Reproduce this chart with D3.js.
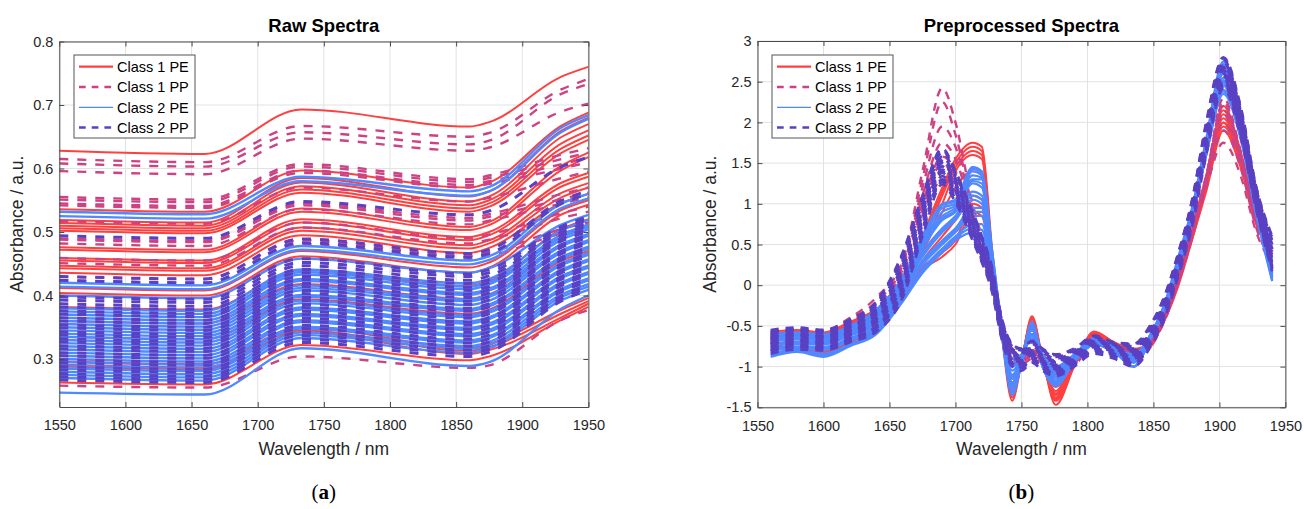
<!DOCTYPE html>
<html><head><meta charset="utf-8">
<script src="https://cdn.jsdelivr.net/npm/d3@7"></script>
<style>body{margin:0;background:#fff;} svg{display:block;font-family:"Liberation Sans",Arial,Helvetica,sans-serif;}</style>
</head><body><svg id="chart" width="1304" height="509"></svg>
<script>
// ---------------- DATA ----------------
const seriesNames = ["Class 1 PE", "Class 1 PP", "Class 2 PE", "Class 2 PP"];
const xTickValues = [1550, 1600, 1650, 1700, 1750, 1800, 1850, 1900, 1950];
const rawYTicks = [0.3, 0.4, 0.5, 0.6, 0.7, 0.8];
const prepYTicks = [-1.5, -1, -0.5, 0, 0.5, 1, 1.5, 2, 2.5, 3];

// Raw spectra: absorbance at these wavelengths
const rawWavelengths = [1550, 1660, 1733, 1860, 1875, 1930, 1950];
const rawClass1PE = [
 [.628,.623,.693,.666,.673,.745,.760],
 [.536,.532,.597,.570,.578,.668,.688],
 [.519,.515,.585,.556,.564,.660,.680],
 [.514,.510,.578,.548,.556,.650,.670],
 [.510,.506,.572,.542,.550,.640,.660],
 [.506,.502,.567,.537,.545,.632,.652],
 [.502,.498,.562,.532,.540,.625,.645],
 [.476,.472,.537,.508,.516,.605,.625],
 [.472,.468,.532,.503,.511,.598,.618],
 [.459,.455,.520,.492,.500,.578,.593],
 [.455,.451,.515,.487,.495,.572,.587],
 [.447,.443,.507,.479,.487,.562,.577],
 [.443,.439,.502,.474,.482,.555,.570],
 [.436,.432,.495,.467,.475,.546,.560],
 [.412,.408,.470,.444,.452,.535,.550],
 [.404,.400,.462,.436,.444,.528,.543],
 [.382,.378,.440,.415,.423,.505,.520],
 [.360,.356,.418,.395,.402,.480,.495],
 [.335,.331,.394,.371,.378,.455,.470],
 [.296,.292,.350,.318,.324,.378,.396],
 [.291,.287,.345,.313,.319,.372,.391],
 [.288,.284,.342,.308,.314,.366,.387],
 [.263,.260,.322,.298,.304,.362,.382]
];
const rawClass1PP = [
 [.615,.610,.667,.650,.656,.725,.741],
 [.608,.603,.657,.638,.644,.718,.733],
 [.596,.591,.647,.628,.633,.690,.702],
 [.555,.551,.607,.583,.589,.622,.632],
 [.551,.547,.603,.579,.585,.615,.625],
 [.545,.541,.597,.574,.580,.607,.617],
 [.542,.538,.593,.570,.576,.600,.610],
 [.517,.513,.570,.548,.554,.585,.595],
 [.490,.486,.545,.522,.528,.560,.570],
 [.488,.484,.542,.518,.524,.552,.562],
 [.482,.478,.536,.512,.518,.545,.555],
 [.459,.455,.515,.490,.496,.530,.540],
 [.451,.447,.507,.482,.488,.522,.532],
 [.430,.426,.487,.462,.468,.505,.515],
 [.424,.420,.481,.456,.462,.498,.508],
 [.258,.255,.304,.286,.290,.362,.377]
];
const rawClass2PE = [
 [.532,.528,.587,.564,.571,.665,.684],
 [.525,.521,.580,.557,.564,.658,.678],
 [.420,.416,.478,.455,.462,.545,.560],
 [.414,.410,.472,.449,.456,.538,.553],
 [.400,.396,.458,.436,.443,.512,.527],
 [.380,.376,.441,.419,.426,.503,.519],
 [.375,.371,.437,.414,.421,.496,.512],
 [.370,.366,.433,.410,.418,.492,.508],
 [.365,.361,.426,.404,.411,.488,.504],
 [.360,.356,.423,.401,.408,.481,.497],
 [.355,.351,.416,.394,.401,.478,.494],
 [.350,.346,.412,.391,.398,.471,.487],
 [.345,.341,.408,.385,.392,.468,.484],
 [.340,.336,.401,.379,.386,.461,.477],
 [.335,.331,.398,.376,.383,.458,.474],
 [.330,.326,.392,.369,.376,.451,.467],
 [.325,.321,.388,.366,.373,.448,.464],
 [.320,.316,.381,.359,.366,.441,.457],
 [.315,.311,.378,.356,.363,.438,.454],
 [.310,.306,.371,.349,.356,.431,.447],
 [.305,.301,.368,.346,.353,.428,.444],
 [.300,.296,.361,.339,.346,.421,.437],
 [.295,.291,.358,.336,.343,.418,.434],
 [.290,.286,.351,.329,.336,.411,.427],
 [.285,.281,.348,.326,.333,.408,.424],
 [.280,.276,.342,.320,.327,.402,.418],
 [.275,.271,.338,.316,.322,.398,.414],
 [.270,.266,.333,.310,.317,.393,.409],
 [.247,.244,.317,.289,.295,.380,.400]
];
const rawClass2PP = [
 [.494,.490,.548,.527,.533,.603,.618],
 [.430,.426,.489,.466,.472,.550,.565],
 [.424,.420,.483,.460,.466,.545,.560],
 [.398,.394,.458,.434,.441,.509,.524],
 [.393,.389,.452,.430,.436,.505,.520],
 [.387,.383,.447,.424,.431,.500,.515],
 [.382,.378,.441,.419,.425,.495,.511],
 [.376,.372,.436,.413,.420,.490,.506],
 [.371,.367,.430,.408,.414,.486,.501],
 [.365,.361,.425,.402,.409,.480,.496],
 [.360,.356,.419,.397,.404,.476,.492],
 [.354,.350,.414,.391,.398,.470,.486],
 [.349,.345,.408,.386,.393,.466,.482],
 [.343,.339,.403,.380,.387,.460,.476],
 [.338,.334,.397,.375,.382,.456,.472],
 [.332,.328,.392,.369,.376,.450,.467],
 [.327,.323,.386,.364,.371,.446,.462],
 [.321,.317,.381,.358,.365,.440,.457],
 [.316,.312,.375,.353,.360,.436,.452],
 [.310,.306,.370,.347,.354,.430,.447],
 [.305,.301,.364,.342,.349,.426,.442],
 [.299,.295,.359,.336,.343,.420,.437],
 [.294,.290,.353,.331,.338,.416,.432],
 [.288,.284,.348,.325,.332,.410,.427],
 [.283,.279,.342,.320,.327,.406,.422],
 [.277,.273,.337,.314,.321,.400,.417],
 [.272,.268,.331,.309,.316,.396,.413],
 [.267,.263,.326,.304,.311,.392,.409]
];

// Preprocessed spectra: values at these wavelengths
const prepWavelengths = [1560,1580,1600,1620,1640,1660,1675,1690,1700,1713,1720,1728,1735,1743,1750,1758,1766,1776,1790,1805,1820,1835,1848,1858,1868,1880,1890,1903,1916,1928,1940];
const prepClass1PE = [
 [-0.57,-0.55,-0.58,-0.45,-0.30, 0.00,0.60,1.20,1.55,1.75,1.70,0.40, -0.60,-1.42,-0.95,-0.38,-0.90,-1.47,-1.00,-0.57,-0.70,-0.80,-0.75,-0.40,0.05,0.70,1.30,2.20,1.65,0.85,0.40],
 [-0.60,-0.57,-0.60,-0.48,-0.33,-0.05,0.55,1.15,1.50,1.70,1.65,0.35, -0.55,-1.38,-0.95,-0.42,-0.92,-1.42,-0.98,-0.60,-0.72,-0.80,-0.72,-0.35,0.10,0.75,1.35,2.15,1.60,0.80,0.35],
 [-0.62,-0.60,-0.63,-0.50,-0.35,-0.05,0.50,1.10,1.45,1.65,1.60,0.30, -0.55,-1.30,-0.90,-0.45,-0.90,-1.38,-0.95,-0.62,-0.75,-0.82,-0.70,-0.38,0.05,0.70,1.30,2.05,1.55,0.80,0.40],
 [-0.65,-0.62,-0.66,-0.53,-0.38,-0.10,0.45,1.00,1.40,1.60,1.55,0.30, -0.50,-1.25,-0.92,-0.50,-0.95,-1.35,-0.95,-0.65,-0.75,-0.80,-0.68,-0.40,0.00,0.65,1.25,2.00,1.50,0.75,0.35],
 [-0.70,-0.72,-0.82,-0.68,-0.50,-0.15,0.22,0.40,0.55,1.00,0.95,0.20, -0.55,-1.20,-0.90,-0.55,-0.95,-1.30,-0.90,-0.62,-0.72,-0.82,-0.72,-0.45,-0.05,0.60,1.20,1.95,1.50,0.80,0.45],
 [-0.75,-0.76,-0.84,-0.70,-0.55,-0.20,0.18,0.35,0.50,0.90,0.85,0.15, -0.60,-1.15,-0.88,-0.60,-1.00,-1.25,-0.92,-0.65,-0.75,-0.80,-0.70,-0.42,0.00,0.60,1.15,1.90,1.45,0.75,0.40],
 [-0.60,-0.58,-0.60,-0.47,-0.30,-0.10,0.40,0.90,1.20,1.40,1.35,0.30, -0.50,-1.35,-0.95,-0.40,-0.90,-1.40,-0.98,-0.58,-0.70,-0.78,-0.70,-0.38,0.05,0.72,1.30,2.10,1.60,0.82,0.38],
 [-0.68,-0.66,-0.72,-0.60,-0.45,-0.15,0.30,0.60,0.80,1.10,1.05,0.25, -0.55,-1.28,-0.92,-0.48,-0.95,-1.33,-0.95,-0.60,-0.73,-0.80,-0.72,-0.40,0.02,0.68,1.25,2.00,1.52,0.78,0.42]
];
const prepClass1PP = [
 [-0.58,-0.55,-0.56,-0.40,-0.15, 0.30,1.40,2.42,2.00,1.00,0.60,0.20, -0.45,-0.80,-0.88,-0.82,-0.85,-1.05,-0.92,-0.65,-0.75,-0.80,-0.72,-0.42,0.00,0.65,1.20,1.75,1.35,0.65,0.25],
 [-0.60,-0.57,-0.58,-0.42,-0.20, 0.25,1.30,2.25,1.85,0.95,0.55,0.15, -0.45,-0.82,-0.90,-0.80,-0.88,-1.10,-0.95,-0.68,-0.77,-0.82,-0.74,-0.45,-0.02,0.62,1.25,1.90,1.45,0.70,0.30],
 [-0.62,-0.58,-0.60,-0.45,-0.25, 0.20,1.20,1.95,1.70,0.90,0.50,0.12, -0.48,-0.85,-0.92,-0.85,-0.90,-1.12,-0.96,-0.66,-0.76,-0.80,-0.70,-0.40,0.03,0.68,1.30,2.00,1.50,0.75,0.35],
 [-0.64,-0.60,-0.62,-0.48,-0.30, 0.15,1.10,1.75,1.55,0.85,0.45,0.10, -0.50,-0.88,-0.95,-0.85,-0.92,-1.15,-0.98,-0.70,-0.78,-0.84,-0.72,-0.42,0.00,0.66,1.28,2.10,1.55,0.78,0.40],
 [-0.66,-0.62,-0.64,-0.50,-0.33, 0.10,1.00,1.58,1.40,0.80,0.42,0.08, -0.50,-0.90,-0.93,-0.80,-0.90,-1.08,-0.94,-0.67,-0.75,-0.82,-0.70,-0.40,0.05,0.70,1.35,2.20,1.60,0.80,0.45],
 [-0.68,-0.64,-0.66,-0.52,-0.36, 0.05,0.92,1.50,1.30,0.76,0.38,0.05, -0.52,-0.92,-0.96,-0.86,-0.95,-1.15,-0.97,-0.70,-0.78,-0.85,-0.73,-0.43,0.02,0.68,1.32,2.30,1.65,0.82,0.50],
 [-0.70,-0.66,-0.68,-0.55,-0.40, 0.00,0.85,1.40,1.22,0.72,0.35,0.03, -0.55,-0.95,-0.98,-0.90,-0.96,-1.18,-1.00,-0.72,-0.80,-0.86,-0.74,-0.45,0.00,0.65,1.30,2.25,1.62,0.80,0.55],
 [-0.72,-0.68,-0.70,-0.58,-0.43,-0.05,0.78,1.30,1.15,0.68,0.32,0.00, -0.55,-0.90,-0.95,-0.85,-0.93,-1.12,-0.97,-0.70,-0.78,-0.84,-0.72,-0.42,0.02,0.67,1.33,2.15,1.58,0.78,0.60]
];
const prepClass2PE = [
 [-0.60,-0.58,-0.60,-0.50,-0.30, 0.10,0.60,1.00,1.05,1.45,1.40,0.40, -0.45,-0.90,-0.85,-0.50,-0.85,-1.00,-0.85,-0.65,-0.75,-0.85,-0.60,-0.25,0.30,1.00,1.80,2.75,2.10,1.10,0.35],
 [-0.61,-0.59,-0.61,-0.51,-0.33, 0.08,0.58,0.98,1.03,1.43,1.38,0.38, -0.47,-0.95,-0.86,-0.52,-0.86,-1.02,-0.86,-0.66,-0.76,-0.86,-0.61,-0.26,0.28,0.98,1.78,2.72,2.08,1.08,0.33],
 [-0.63,-0.60,-0.62,-0.52,-0.35, 0.05,0.55,0.95,1.00,1.40,1.35,0.35, -0.50,-1.00,-0.88,-0.55,-0.88,-1.05,-0.88,-0.68,-0.77,-0.88,-0.62,-0.28,0.25,0.95,1.75,2.70,2.05,1.05,0.30],
 [-0.65,-0.62,-0.64,-0.54,-0.37, 0.02,0.52,0.90,0.98,1.35,1.32,0.32, -0.50,-1.05,-0.89,-0.52,-0.89,-1.08,-0.89,-0.69,-0.78,-0.89,-0.63,-0.29,0.22,0.92,1.72,2.68,2.02,1.02,0.28],
 [-0.66,-0.63,-0.65,-0.55,-0.38, 0.00,0.50,0.85,0.95,1.30,1.30,0.30, -0.50,-1.10,-0.90,-0.50,-0.90,-1.10,-0.90,-0.70,-0.78,-0.90,-0.65,-0.30,0.20,0.90,1.70,2.65,2.00,1.00,0.25],
 [-0.67,-0.65,-0.66,-0.56,-0.40, 0.00,0.48,0.82,0.92,1.28,1.25,0.30, -0.52,-1.12,-0.91,-0.52,-0.91,-1.11,-0.90,-0.70,-0.79,-0.92,-0.62,-0.27,0.22,0.92,1.72,2.62,1.98,0.98,0.22],
 [-0.69,-0.66,-0.68,-0.58,-0.42, 0.00,0.45,0.80,0.90,1.25,1.20,0.30, -0.55,-1.15,-0.92,-0.55,-0.92,-1.12,-0.90,-0.70,-0.80,-0.95,-0.60,-0.25,0.25,0.95,1.75,2.60,1.95,0.95,0.20],
 [-0.72,-0.69,-0.70,-0.60,-0.45,-0.05,0.40,0.70,0.85,1.15,1.10,0.25, -0.55,-1.20,-0.95,-0.50,-0.95,-1.18,-0.92,-0.72,-0.80,-0.92,-0.62,-0.30,0.20,0.90,1.65,2.50,1.90,0.95,0.15],
 [-0.73,-0.70,-0.72,-0.61,-0.46,-0.05,0.38,0.68,0.82,1.10,1.05,0.22, -0.57,-1.22,-0.95,-0.48,-0.95,-1.19,-0.91,-0.71,-0.79,-0.91,-0.61,-0.29,0.21,0.91,1.68,2.52,1.92,0.92,0.12],
 [-0.75,-0.72,-0.73,-0.62,-0.48,-0.05,0.35,0.65,0.80,1.05,1.00,0.20, -0.60,-1.25,-0.95,-0.45,-0.95,-1.20,-0.90,-0.70,-0.78,-0.90,-0.60,-0.28,0.22,0.92,1.70,2.55,1.95,0.90,0.10],
 [-0.78,-0.75,-0.76,-0.65,-0.50,-0.10,0.30,0.55,0.70,0.95,0.95,0.20, -0.60,-1.30,-0.95,-0.50,-1.00,-1.22,-0.92,-0.72,-0.80,-1.00,-0.65,-0.30,0.20,0.88,1.60,2.40,1.85,0.90,0.08],
 [-0.80,-0.76,-0.78,-0.66,-0.51,-0.10,0.28,0.52,0.68,0.90,0.90,0.18, -0.60,-1.32,-0.96,-0.52,-1.00,-1.23,-0.93,-0.72,-0.81,-1.00,-0.65,-0.31,0.18,0.86,1.60,2.38,1.82,0.88,0.06],
 [-0.81,-0.77,-0.80,-0.68,-0.53,-0.10,0.25,0.50,0.65,0.85,0.85,0.15, -0.60,-1.35,-0.98,-0.55,-1.00,-1.24,-0.95,-0.73,-0.82,-1.00,-0.65,-0.32,0.15,0.85,1.60,2.35,1.80,0.85,0.05],
 [-0.84,-0.79,-0.84,-0.72,-0.56,-0.15,0.20,0.45,0.60,0.75,0.75,0.10, -0.55,-1.30,-0.95,-0.60,-0.98,-1.20,-0.93,-0.70,-0.80,-0.95,-0.62,-0.30,0.20,0.90,1.65,2.45,1.85,0.90,0.10],
 [-0.86,-0.80,-0.86,-0.73,-0.58,-0.18,0.18,0.42,0.58,0.70,0.68,0.08, -0.52,-1.25,-0.92,-0.62,-0.96,-1.18,-0.92,-0.69,-0.79,-0.93,-0.61,-0.29,0.21,0.91,1.68,2.48,1.88,0.92,0.12],
 [-0.88,-0.82,-0.88,-0.75,-0.60,-0.20,0.15,0.40,0.55,0.65,0.60,0.05, -0.50,-1.20,-0.90,-0.65,-0.95,-1.15,-0.90,-0.68,-0.78,-0.92,-0.60,-0.28,0.22,0.92,1.70,2.50,1.90,0.95,0.15]
];
const prepClass2PP = [
 [-0.55,-0.52,-0.55,-0.42,-0.20, 0.40,1.10,1.68,1.40,0.90,0.60,0.20, -0.40,-0.72,-0.78,-0.68,-0.78,-0.85,-0.78,-0.62,-0.70,-0.72,-0.48,-0.15,0.35,1.10,2.00,2.80,2.20,1.20,0.60],
 [-0.56,-0.54,-0.56,-0.44,-0.22, 0.38,1.08,1.66,1.38,0.88,0.58,0.18, -0.41,-0.73,-0.79,-0.69,-0.79,-0.86,-0.79,-0.63,-0.71,-0.73,-0.49,-0.16,0.34,1.09,1.98,2.79,2.18,1.19,0.58],
 [-0.58,-0.55,-0.57,-0.45,-0.23, 0.35,1.05,1.63,1.36,0.86,0.56,0.16, -0.42,-0.75,-0.80,-0.70,-0.80,-0.88,-0.80,-0.64,-0.72,-0.75,-0.50,-0.18,0.32,1.08,1.95,2.77,2.15,1.18,0.55],
 [-0.60,-0.57,-0.59,-0.47,-0.26, 0.30,1.00,1.58,1.32,0.82,0.52,0.12, -0.45,-0.78,-0.83,-0.72,-0.82,-0.90,-0.82,-0.66,-0.73,-0.78,-0.52,-0.20,0.30,1.05,1.90,2.74,2.12,1.15,0.50],
 [-0.63,-0.60,-0.62,-0.50,-0.30, 0.25,0.95,1.54,1.28,0.78,0.48,0.10, -0.47,-0.80,-0.85,-0.75,-0.85,-0.93,-0.84,-0.68,-0.74,-0.80,-0.55,-0.22,0.28,1.00,1.88,2.70,2.10,1.12,0.45],
 [-0.64,-0.61,-0.63,-0.51,-0.31, 0.22,0.92,1.52,1.26,0.76,0.46,0.09, -0.48,-0.81,-0.86,-0.76,-0.86,-0.94,-0.85,-0.69,-0.75,-0.81,-0.56,-0.23,0.26,0.99,1.86,2.68,2.08,1.11,0.44],
 [-0.66,-0.62,-0.64,-0.52,-0.33, 0.20,0.90,1.50,1.25,0.75,0.45,0.08, -0.50,-0.82,-0.87,-0.77,-0.87,-0.95,-0.86,-0.70,-0.76,-0.82,-0.57,-0.25,0.25,0.98,1.85,2.67,2.06,1.10,0.42],
 [-0.68,-0.65,-0.66,-0.55,-0.36, 0.15,0.86,1.46,1.22,0.72,0.42,0.05, -0.52,-0.85,-0.90,-0.80,-0.90,-0.98,-0.88,-0.72,-0.78,-0.85,-0.60,-0.28,0.22,0.95,1.82,2.64,2.03,1.07,0.38],
 [-0.71,-0.67,-0.69,-0.57,-0.40, 0.10,0.82,1.42,1.18,0.68,0.40,0.03, -0.55,-0.87,-0.92,-0.82,-0.92,-1.00,-0.90,-0.74,-0.80,-0.87,-0.62,-0.30,0.20,0.92,1.80,2.60,2.00,1.05,0.35],
 [-0.72,-0.68,-0.70,-0.58,-0.41, 0.08,0.80,1.40,1.16,0.66,0.38,0.02, -0.56,-0.88,-0.93,-0.83,-0.93,-1.01,-0.91,-0.75,-0.81,-0.88,-0.63,-0.31,0.18,0.91,1.78,2.58,1.98,1.03,0.32],
 [-0.73,-0.70,-0.71,-0.60,-0.43, 0.05,0.78,1.38,1.15,0.65,0.37,0.00, -0.57,-0.90,-0.95,-0.85,-0.95,-1.03,-0.92,-0.76,-0.82,-0.90,-0.65,-0.33,0.17,0.90,1.76,2.57,1.97,1.02,0.30],
 [-0.76,-0.72,-0.73,-0.62,-0.46, 0.00,0.74,1.34,1.12,0.62,0.35,-0.02, -0.60,-0.92,-0.97,-0.87,-0.97,-1.05,-0.94,-0.78,-0.84,-0.92,-0.67,-0.35,0.15,0.87,1.72,2.54,1.93,1.00,0.27],
 [-0.78,-0.74,-0.76,-0.65,-0.50,-0.05,0.70,1.30,1.08,0.60,0.32,-0.05, -0.62,-0.95,-1.00,-0.90,-1.00,-1.08,-0.96,-0.80,-0.86,-0.95,-0.70,-0.38,0.12,0.84,1.68,2.50,1.90,0.97,0.23],
 [-0.80,-0.75,-0.77,-0.66,-0.51,-0.08,0.68,1.28,1.06,0.58,0.31,-0.06, -0.63,-0.96,-1.01,-0.91,-1.01,-1.09,-0.97,-0.81,-0.87,-0.96,-0.71,-0.39,0.11,0.82,1.66,2.48,1.88,0.96,0.21],
 [-0.81,-0.76,-0.78,-0.68,-0.53,-0.10,0.65,1.27,1.05,0.57,0.30,-0.07, -0.64,-0.97,-1.02,-0.92,-1.02,-1.10,-0.98,-0.82,-0.88,-0.97,-0.72,-0.40,0.10,0.80,1.65,2.46,1.87,0.95,0.20],
 [-0.84,-0.79,-0.80,-0.70,-0.57,-0.15,0.60,1.24,1.02,0.55,0.28,-0.10, -0.66,-1.00,-1.05,-0.95,-1.05,-1.12,-1.00,-0.84,-0.90,-1.00,-0.75,-0.43,0.07,0.77,1.60,2.42,1.83,0.92,0.17]
];

// ---------------- STYLE ----------------
const colors = ["#ff4040", "#cc4282", "#4f88ff", "#5a40c2"];
const svg = d3.select("#chart");

const panels = [
  {id:"a", title:"Raw Spectra", left:59.3, right:588.4, top:41.5, bottom:407,
   xDomain:[1550,1950], yDomain:[0.2244,0.8], yTicks:rawYTicks, wl:rawWavelengths,
   series:[rawClass1PE, rawClass1PP, rawClass2PE, rawClass2PP],
   widths:[2.0, 2.4, 2.4, 3.0], dash:"9,9", legendX:74, caption:"a", ylabelX:17},
  {id:"b", title:"Preprocessed Spectra", left:757.5, right:1285.4, top:41, bottom:407.3,
   xDomain:[1550,1950], yDomain:[-1.5,3], yTicks:prepYTicks, wl:prepWavelengths,
   series:[prepClass1PE, prepClass1PP, prepClass2PE, prepClass2PP],
   widths:[2.0, 2.4, 2.2, 2.7], dash:"8,7", legendX:772, caption:"b", ylabelX:710}
];

const dashed = [false, true, false, true];

panels.forEach(p => {
  const x = d3.scaleLinear().domain(p.xDomain).range([p.left, p.right]);
  const y = d3.scaleLinear().domain(p.yDomain).range([p.bottom, p.top]);
  const g = svg.append("g");

  // grid
  g.append("g").selectAll("line").data(xTickValues).join("line")
    .attr("x1", d => x(d)).attr("x2", d => x(d)).attr("y1", p.top).attr("y2", p.bottom)
    .attr("stroke", "#e2e2e2").attr("stroke-width", 1);
  g.append("g").selectAll("line").data(p.yTicks).join("line")
    .attr("y1", d => y(d)).attr("y2", d => y(d)).attr("x1", p.left).attr("x2", p.right)
    .attr("stroke", "#e2e2e2").attr("stroke-width", 1);

  // clip
  svg.append("clipPath").attr("id", "clip-" + p.id).append("rect")
    .attr("x", p.left).attr("y", p.top).attr("width", p.right - p.left).attr("height", p.bottom - p.top);

  const lineGen = d3.line().x((d, i) => x(p.wl[i])).y(d => y(d)).curve(d3.curveMonotoneX);
  const lg = g.append("g").attr("clip-path", `url(#clip-${p.id})`);
  p.series.forEach((rows, si) => {
    lg.append("g").selectAll("path").data(rows).join("path")
      .attr("d", lineGen)
      .attr("fill", "none").attr("stroke", colors[si]).attr("stroke-width", p.widths[si])
      .attr("stroke-dasharray", dashed[si] ? p.dash : null)
      .attr("stroke-linejoin", "round");
  });

  // axes
  const fmt = d => String(d);
  const axB = g.append("g").attr("transform", `translate(0,${p.bottom})`)
    .call(d3.axisBottom(x).tickValues(xTickValues).tickFormat(fmt).tickSizeInner(-5).tickSizeOuter(0).tickPadding(13));
  const axL = g.append("g").attr("transform", `translate(${p.left},0)`)
    .call(d3.axisLeft(y).tickValues(p.yTicks).tickFormat(fmt).tickSizeInner(-5).tickSizeOuter(0).tickPadding(6));
  const axT = g.append("g").attr("transform", `translate(0,${p.top})`)
    .call(d3.axisTop(x).tickValues(xTickValues).tickFormat("").tickSizeInner(-5).tickSizeOuter(0));
  const axR = g.append("g").attr("transform", `translate(${p.right},0)`)
    .call(d3.axisRight(y).tickValues(p.yTicks).tickFormat("").tickSizeInner(-5).tickSizeOuter(0));
  [axB, axL, axT, axR].forEach(a => {
    a.select(".domain").attr("stroke", "#4a4a4a");
    a.selectAll(".tick line").attr("stroke", "#4a4a4a");
    a.selectAll("text").attr("fill", "#262626").style("font-size", "14.5px")
      .style("font-family", '"Liberation Sans",Arial,sans-serif');
  });

  const cx = (p.left + p.right) / 2;
  g.append("text").attr("x", cx).attr("y", 31.5).attr("text-anchor", "middle")
    .style("font-weight", "bold").style("font-size", "18.5px").attr("fill", "#000").text(p.title);
  g.append("text").attr("x", cx).attr("y", 454.5).attr("text-anchor", "middle")
    .style("font-size", "17.5px").attr("fill", "#262626").text("Wavelength / nm");
  g.append("text").attr("transform", `translate(${p.ylabelX + 6},${(p.top + p.bottom) / 2}) rotate(-90)`)
    .attr("text-anchor", "middle").style("font-size", "17.5px").attr("fill", "#262626").text("Absorbance / a.u.");
  const cap = g.append("text").attr("x", cx).attr("y", 499).attr("text-anchor", "middle")
    .style("font-family", '"Liberation Serif","DejaVu Serif",serif').style("font-size", "21px").attr("fill", "#000");
  cap.append("tspan").text("(");
  cap.append("tspan").style("font-weight", "bold").text(p.caption);
  cap.append("tspan").text(")");

  // legend
  const lx = p.legendX, ly = 55, lw = 121, lh = 83;
  const leg = g.append("g");
  leg.append("rect").attr("x", lx).attr("y", ly).attr("width", lw).attr("height", lh)
    .attr("fill", "#fff").attr("stroke", "#555").attr("stroke-width", 1);
  const legW = [2.2, 2.5, 1.2, 2.5];
  seriesNames.forEach((name, i) => {
    const yy = ly + 11.7 + i * 20.3;
    leg.append("line").attr("x1", lx + 5).attr("x2", lx + 39).attr("y1", yy).attr("y2", yy)
      .attr("stroke", colors[i]).attr("stroke-width", legW[i])
      .attr("stroke-dasharray", dashed[i] ? "6.7,6" : null);
    leg.append("text").attr("x", lx + 43).attr("y", yy).attr("dy", "0.36em")
      .style("font-size", "14.5px").attr("fill", "#000").text(name);
  });
});
</script>
</body></html>
